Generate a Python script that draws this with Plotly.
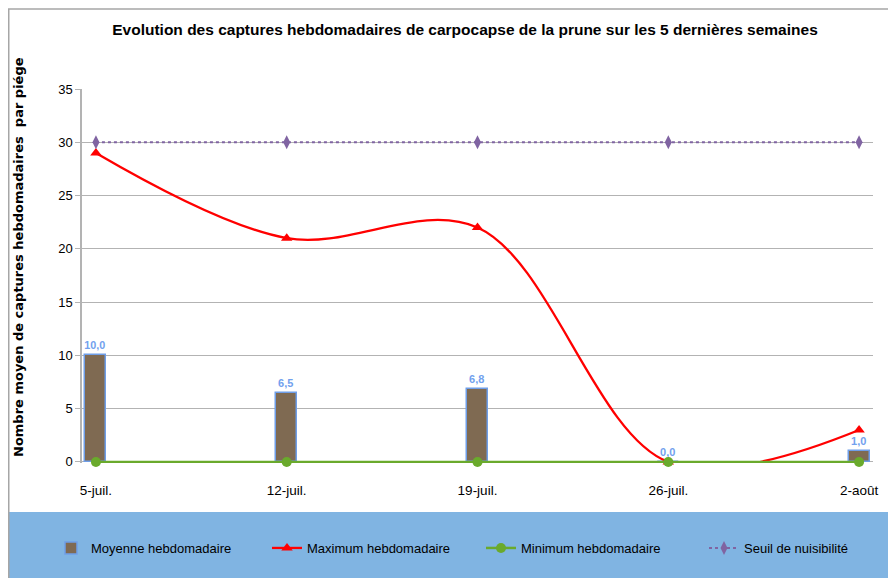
import plotly.graph_objects as go

categories = ["5-juil.", "12-juil.", "19-juil.", "26-juil.", "2-août"]
moyenne = [10.0, 6.5, 6.8, 0.0, 1.0]
maximum = [29, 21, 22, 0, 3]
minimum = [0, 0, 0, 0, 0]
seuil = [30, 30, 30, 30, 30]
y_ticks = [0, 5, 10, 15, 20, 25, 30, 35]

FONT = "Liberation Sans, Arial, sans-serif"

# The page adds an 8px body margin, so the figure is 8px smaller and all
# positions below are expressed relative to the plot area.
W, H = 888, 570


def px(page_x):
    return (page_x - 82) / 791


def py(page_y):
    return (463 - page_y) / 374


fig = go.Figure()
fig.add_trace(go.Bar(
    x=categories, y=moyenne, name="Moyenne hebdomadaire",
    marker=dict(color="#7f6a52", line=dict(color="#6f9ee8", width=1.5)),
    width=0.11,
    text=moyenne, texttemplate="<b>%{y:.1f}</b>", textposition="outside",
    textfont=dict(color="#72a1ee", family=FONT, size=11),
    cliponaxis=False, legend="legend",
))
fig.add_trace(go.Scatter(
    x=categories, y=maximum, name="Maximum hebdomadaire",
    mode="lines+markers", line=dict(color="#ff0000", width=2.3, shape="spline", smoothing=1),
    marker=dict(symbol="triangle-up", size=10, color="#ff0000"),
    cliponaxis=False, legend="legend2",
))
fig.add_trace(go.Scatter(
    x=categories, y=minimum, name="Minimum hebdomadaire",
    mode="lines+markers", line=dict(color="#6aaa2c", width=2.5),
    marker=dict(symbol="circle", size=10, color="#6aaa2c"),
    cliponaxis=False, legend="legend3",
))
fig.add_trace(go.Scatter(
    x=categories, y=seuil, name="Seuil de nuisibilité",
    mode="lines+markers", line=dict(color="#8064a2", width=2, dash="dot"),
    marker=dict(symbol="diamond-tall", size=10, color="#8064a2"),
    cliponaxis=False, legend="legend4",
))


def leg(x_fig):
    return dict(
        orientation="h", xref="container", x=x_fig / W, xanchor="left",
        yref="container", y=(H - 540) / H, yanchor="middle",
        bgcolor="rgba(0,0,0,0)", font=dict(family=FONT, size=13, color="#000000"),
    )


fig.update_layout(
    width=W, height=H,
    margin=dict(l=74, r=23, t=81, b=115, autoexpand=False),
    paper_bgcolor="white", plot_bgcolor="white",
    separators=", ",
    font=dict(family=FONT, size=13, color="#000000"),
    title=dict(
        text="<b>Evolution des captures hebdomadaires de carpocapse de la prune sur les 5 dernières semaines</b>",
        x=457 / W, xanchor="center", xref="container",
        y=1 - 22 / H, yanchor="middle", yref="container",
        font=dict(family=FONT, size=15.5, color="#000000"),
    ),
    showlegend=True,
    legend=leg(43), legend2=leg(259), legend3=leg(473), legend4=leg(696),
    bargap=0,
    shapes=[
        dict(type="rect", xref="paper", yref="paper",
             x0=px(8), x1=px(896), y0=py(578), y1=py(512),
             fillcolor="#80b4e2", line=dict(width=0), layer="below"),
        dict(type="line", xref="paper", yref="paper",
             x0=px(8), x1=px(896), y0=py(9), y1=py(9),
             line=dict(color="#a6a6a6", width=1.5)),
        dict(type="line", xref="paper", yref="paper",
             x0=px(8.75), x1=px(8.75), y0=py(9), y1=py(578),
             line=dict(color="#a6a6a6", width=1.5)),
    ],
    annotations=[
        dict(text="<b>Nombre moyen de captures hebdomadaires  par piége</b>",
             textangle=-90, xref="paper", yref="paper",
             x=px(18), y=py(257), xanchor="center", yanchor="middle",
             showarrow=False, font=dict(family="DejaVu Sans, Verdana, sans-serif", size=13, color="#000000")),
    ],
)
fig.update_xaxes(
    type="category", range=[-0.073, 4.073],
    showgrid=False, showline=False, ticks="",
    tickfont=dict(family=FONT, size=13.5, color="#000000"),
    ticklabelstandoff=17,
)
fig.update_yaxes(
    range=[-0.1, 35], tickvals=y_ticks,
    showgrid=True, gridcolor="#b3b3b3", gridwidth=1.2,
    zeroline=False,
    showline=True, linecolor="#b3b3b3", linewidth=1.5,
    ticks="outside", ticklen=5, tickcolor="#b3b3b3",
    tickfont=dict(family=FONT, size=13, color="#000000"),
)

fig.write_html("out.html")
